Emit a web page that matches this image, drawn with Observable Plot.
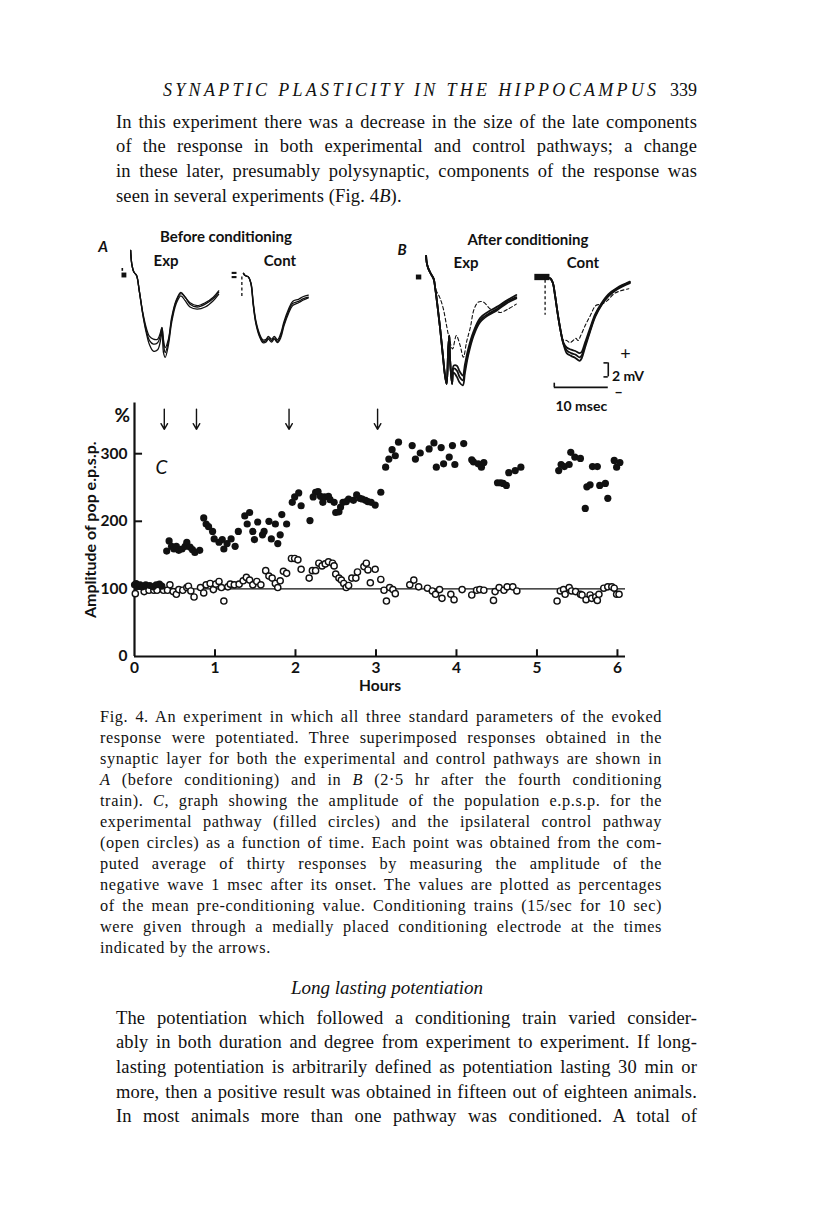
<!DOCTYPE html>
<html><head><meta charset="utf-8">
<script src="https://cdn.jsdelivr.net/npm/d3@7"></script>
<script src="https://cdn.jsdelivr.net/npm/@observablehq/plot@0.6"></script>
<style>
html,body{margin:0;padding:0;background:#fff;}
body{width:816px;height:1215px;position:relative;overflow:hidden;font-family:"Liberation Serif","Times New Roman",serif;color:#111;}
.abs{position:absolute;}
.j{text-align:justify;text-align-last:justify;}
.body{font-size:18.5px;line-height:24.7px;letter-spacing:0.15px;width:581px;left:116px;}
.cap{font-size:16.3px;line-height:21px;letter-spacing:0.6px;width:562px;left:100px;top:705.5px;}
.lab{position:absolute;font-family:Lato,"DejaVu Sans",sans-serif;font-weight:bold;font-size:15px;transform:translate(-50%,-50%);white-space:nowrap;color:#111;}
svg{overflow:visible;}
</style>
</head><body>
<div class="abs" style="left:163px;top:78px;font-size:18px;line-height:24px;font-style:italic;letter-spacing:3.3px;white-space:nowrap;">SYNAPTIC PLASTICITY IN THE HIPPOCAMPUS</div>
<div class="abs" style="left:660px;width:37px;text-align:right;top:78px;font-size:18px;line-height:24px;">339</div>

<div class="abs body" style="top:109.6px;">
<div class="j">In this experiment there was a decrease in the size of the late components</div>
<div class="j">of the response in both experimental and control pathways; a change</div>
<div class="j">in these later, presumably polysynaptic, components of the response was</div>
<div>seen in several experiments (Fig. 4<i>B</i>).</div>
</div>

<div class="lab" style="left:103px;top:246px;font-style:italic;font-size:15px;">A</div>
<div class="lab" style="left:226px;top:236px;">Before conditioning</div>
<div class="lab" style="left:166px;top:260px;">Exp</div>
<div class="lab" style="left:280px;top:260px;">Cont</div>
<div class="lab" style="left:402px;top:249px;font-style:italic;font-size:15px;">B</div>
<div class="lab" style="left:528px;top:239px;">After conditioning</div>
<div class="lab" style="left:466px;top:262px;">Exp</div>
<div class="lab" style="left:583px;top:262px;">Cont</div>

<div class="abs cap">
<div class="j">Fig. 4. An experiment in which all three standard parameters of the evoked</div>
<div class="j">response were potentiated. Three superimposed responses obtained in the</div>
<div class="j">synaptic layer for both the experimental and control pathways are shown in</div>
<div class="j"><i>A</i> (before conditioning) and in <i>B</i> (2·5 hr after the fourth conditioning</div>
<div class="j">train). <i>C</i>, graph showing the amplitude of the population e.p.s.p. for the</div>
<div class="j">experimental pathway (filled circles) and the ipsilateral control pathway</div>
<div class="j">(open circles) as a function of time. Each point was obtained from the com-</div>
<div class="j">puted average of thirty responses by measuring the amplitude of the</div>
<div class="j">negative wave 1 msec after its onset. The values are plotted as percentages</div>
<div class="j">of the mean pre-conditioning value. Conditioning trains (15/sec for 10 sec)</div>
<div class="j">were given through a medially placed conditioning electrode at the times</div>
<div>indicated by the arrows.</div>
</div>

<div class="abs" style="left:187px;width:400px;text-align:center;top:976px;font-size:19px;line-height:24px;font-style:italic;">Long lasting potentiation</div>

<div class="abs body" style="top:1005.6px;">
<div class="j">The potentiation which followed a conditioning train varied consider-</div>
<div class="j">ably in both duration and degree from experiment to experiment. If long-</div>
<div class="j">lasting potentiation is arbitrarily defined as potentiation lasting 30 min or</div>
<div class="j">more, then a positive result was obtained in fifteen out of eighteen animals.</div>
<div class="j">In most animals more than one pathway was conditioned. A total of</div>
</div>

<script>
// ---------- C: scatter data ----------
const hourTicks = [0, 1, 2, 3, 4, 5, 6];
const ampTicks = [0, 100, 200, 300];
const trainTimes = [0.37, 0.77, 1.92, 3.02];   // conditioning trains (arrows)
const baselinePct = 100;

// experimental pathway (filled circles)
const expHours = [
  0.00,0.02,0.04,0.07,0.10,0.14,0.19,0.23,0.27,0.31,0.34,
  0.40,0.43,0.46,0.49,0.52,0.55,0.59,0.63,0.65,0.69,0.72,0.75,0.81,
  0.86,0.89,0.92,0.97,0.99,1.05,1.09,1.11,1.15,1.20,1.25,1.29,
  1.37,1.40,1.43,1.47,1.49,1.53,1.59,1.61,1.67,1.70,1.75,1.78,1.81,1.83,1.89,
  1.96,1.99,2.04,2.07,2.18,2.22,2.25,2.28,2.31,2.34,2.36,2.41,2.43,2.48,2.50,2.54,2.56,2.59,2.63,2.66,2.72,2.76,2.80,
  2.83,2.87,2.90,2.94,2.99,3.06,
  3.12,3.16,3.20,3.24,3.28,3.45,3.49,3.55,3.66,3.72,3.75,3.81,3.84,3.91,3.95,3.98,4.09,4.19,4.21,4.27,4.31,4.34,
  4.51,4.55,4.58,4.62,4.65,4.73,4.80,
  5.27,5.30,5.34,5.40,5.42,5.47,5.54,5.60,5.62,5.66,5.69,5.75,5.78,5.85,5.88,5.96,5.99,6.03
];
const expAmp = [
  106,108,104,106,103,106,105,103,106,107,104,
  156,171,163,159,163,157,159,163,169,162,158,154,157,
  205,196,192,185,174,169,173,159,167,174,163,185,
  208,196,213,185,173,199,180,185,200,174,196,167,180,210,196,
  228,236,242,223,201,236,243,244,237,228,236,237,232,228,213,214,221,228,229,233,231,239,234,
  233,231,229,228,224,243,
  280,292,306,297,317,312,292,301,307,316,280,309,285,295,312,284,315,291,288,285,280,287,
  257,257,256,253,272,275,280,
  275,284,281,284,302,295,293,219,251,254,281,281,253,256,234,290,280,287
];
// control pathway (open circles)
const ctrlHours = [
  0.01,0.12,0.18,0.24,0.28,0.36,0.41,0.44,0.48,0.52,0.55,0.60,0.65,0.67,0.70,0.74,0.82,0.86,0.89,0.94,
  0.98,1.01,1.05,1.08,1.11,1.16,1.19,1.24,1.30,1.35,1.39,1.43,1.47,1.52,1.57,1.63,1.67,1.71,1.75,1.78,
  1.81,1.85,1.89,1.95,1.99,2.03,2.07,2.17,2.21,2.25,2.29,2.33,2.37,2.41,2.46,2.48,2.50,2.54,2.57,2.60,
  2.63,2.66,2.70,2.75,2.77,
  2.85,2.88,2.90,2.93,2.99,3.06,3.10,3.13,3.17,3.21,3.24,3.42,3.47,3.53,3.64,3.70,3.74,3.79,3.82,3.93,
  3.97,4.07,4.19,4.25,4.29,4.34,4.46,4.48,4.53,4.59,4.63,4.70,4.75,5.25,5.29,5.33,5.35,5.40,5.43,5.48,
  5.54,5.56,5.61,5.66,5.68,5.73,5.75,5.77,5.83,5.88,5.93,5.96,5.99,6.02
];
const ctrlAmp = [
  93,96,98,98,98,98,98,106,96,92,99,98,102,104,97,88,102,94,106,108,
  99,107,111,102,82,103,107,106,107,112,117,113,106,111,106,127,119,116,108,102,
  112,126,123,145,145,143,129,116,127,127,138,134,137,140,138,134,122,116,113,108,
  102,105,116,116,125,
  133,138,128,109,129,114,98,82,102,99,93,106,113,103,101,97,92,99,86,92,
  84,99,91,98,99,98,83,96,102,98,103,103,97,82,97,99,92,102,97,96,
  92,91,84,91,86,88,83,92,101,103,103,101,92,92
];

// ---------- A / B: evoked response traces (msec, mV) ----------
const aExpTime = [0.1,0.3,0.7,1.2,1.7,2.4,3.0,3.6,4.3,5.1,5.6,5.9,6.2,6.5,7.1,7.7,8.5,9.4,10.2,11.1,12.4,13.9,15.4,16.4];
const aExpTraces = [
  [3.6,1.7,0.5,0,-2.2,-5.5,-7.5,-8.7,-9.1,-9.1,-8.2,-7.4,-9.3,-10.3,-9.1,-6.0,-3.6,-2.4,-3.1,-3.9,-4.3,-3.9,-3.1,-2.2],
  [3.6,1.7,0.5,0,-2.2,-5.7,-7.9,-9.3,-9.8,-9.6,-8.6,-7.5,-9.8,-11.0,-9.4,-6.3,-3.8,-2.6,-3.1,-4.1,-4.5,-4.1,-3.3,-2.4],
  [3.6,1.7,0.5,0,-2.2,-5.8,-8.2,-9.9,-10.8,-10.6,-9.4,-7.9,-11.1,-11.7,-9.9,-6.7,-4.1,-2.9,-3.6,-4.5,-4.8,-4.5,-3.6,-2.7]
];
const aContTime = [-0.3,0,0.6,1.1,1.5,2.0,2.7,3.3,3.9,4.3,4.9,5.4,6.0,6.6,7.2,8.0,8.8,9.9,10.8,11.7];
const aContTraces = [
  [0.3,0,-0.2,-1.2,-4.0,-6.7,-8.6,-9.4,-9.3,-8.9,-9.3,-8.9,-9.4,-8.6,-6.9,-5.2,-4.0,-3.7,-3.3,-3.1],
  [0.3,0,-0.2,-1.3,-4.2,-6.9,-8.8,-9.6,-9.5,-9.1,-9.5,-9.1,-9.6,-8.9,-7.2,-5.5,-4.3,-3.9,-3.5,-3.2],
  [0.3,0,-0.2,-1.1,-3.8,-6.5,-8.4,-9.2,-9.1,-8.7,-9.1,-8.7,-9.2,-8.3,-6.6,-4.9,-3.7,-3.4,-3.0,-2.8]
];
const bExpTime = [0,0.1,0.4,0.9,1.4,1.7,2.1,2.6,3.1,3.5,3.8,4.1,4.3,4.4,4.8,5.1,5.7,6.2,6.8,7.2,7.8,8.8,10.0,11.5,13.1,14.9,16.7];
const bExpTraces = [
  [3.1,2.2,1.3,0.5,-0.2,-1.6,-4.0,-7.3,-11.1,-14.0,-15.2,-10.2,-8.3,-11.1,-15.2,-13.0,-13.3,-14.2,-14.7,-13.0,-10.7,-8.0,-6.1,-5.2,-4.5,-3.5,-2.8],
  [3.1,2.2,1.3,0.5,-0.2,-1.6,-4.0,-7.3,-11.1,-14.0,-15.2,-10.2,-8.3,-11.1,-15.2,-13.6,-14.2,-15.0,-15.4,-13.6,-11.1,-8.3,-6.4,-5.4,-4.7,-3.7,-3.0],
  [3.1,2.2,1.3,0.5,-0.2,-1.6,-4.0,-7.3,-11.1,-14.0,-15.2,-10.2,-8.3,-11.1,-15.2,-12.6,-12.6,-13.4,-14.0,-12.4,-10.2,-7.7,-5.8,-4.9,-4.2,-3.3,-2.5]
];
const bExpDashTime = [0,0.1,0.4,0.9,1.4,1.7,2.5,3.2,3.8,4.3,4.9,5.6,6.3,6.9,7.5,8.2,8.9,9.7,10.6,11.9,12.8,13.7,15.2,16.7];
const bExpDash = [3.1,2.2,1.3,0.5,-0.2,-1.6,-2.8,-4.5,-6.9,-8.8,-10.2,-8.3,-9.7,-11.4,-9.2,-7.1,-4.5,-3.5,-3.5,-4.5,-4.7,-5.0,-4.5,-3.8];
const bContTime = [0,0.9,1.4,1.85,2.3,2.8,3.4,4.0,4.8,5.6,6.4,6.8,7.4,8.3,9.3,10.5,11.7,13.3,15.7];
const bContTraces = [
  [-0.1,-0.1,-0.7,-2.6,-5.0,-7.3,-9.5,-10.4,-10.8,-11.0,-11.4,-11.1,-9.7,-7.6,-5.4,-3.8,-2.6,-1.6,-0.7],
  [-0.1,-0.1,-0.7,-2.6,-5.0,-7.3,-9.5,-10.8,-11.2,-11.5,-11.9,-11.5,-10.0,-7.8,-5.6,-3.9,-2.7,-1.7,-0.8],
  [-0.1,-0.1,-0.7,-2.6,-5.0,-7.3,-9.3,-10.0,-10.3,-10.5,-10.8,-10.6,-9.3,-7.3,-5.2,-3.6,-2.4,-1.5,-0.6]
];
const bContDashTime = [0,0.9,1.4,1.85,2.3,2.8,3.3,4.0,4.6,5.2,5.7,6.1,6.6,7.4,8.4,9.4,10.5,11.5,12.8,14.0,15.5];
const bContDash = [0,0,-0.7,-2.6,-5.0,-7.4,-8.9,-9.0,-9.3,-9.0,-8.7,-9.0,-8.3,-6.9,-5.4,-4.0,-3.8,-3.3,-2.3,-1.9,-1.6];

// stimulus artifact marks (msec, mV)
const aExpArtifact = [{t1:-1.5,t2:-0.6,v1:-0.35,v2:0.35},{t1:-1.5,t2:-1.2,v1:0.6,v2:1.0}];
const aContArtifact = [{t1:-2.4,t2:-1.5,v1:0.15,v2:0.45},{t1:-2.4,t2:-1.5,v1:-0.45,v2:-0.15}];
const aContArtifactDash = [{t:-0.6,v1:-0.2,v2:-3.1}];
const bExpArtifact = [{t1:-1.8,t2:-0.8,v1:-0.35,v2:0.35}];
const bContArtifact = [{t1:-1.9,t2:0.9,v1:-0.45,v2:0.45}];
const bContArtifactDash = [{t:0,v1:-0.4,v2:-5.4}];

// calibration
const calMsec = 10, calMV = 2;

// ---------- helpers ----------
function place(node, left, top) {
  const d = document.createElement("div");
  d.style.position = "absolute";
  d.style.left = left + "px";
  d.style.top = top + "px";
  d.appendChild(node);
  document.body.appendChild(d);
}
const rowsOf = (time, traces) => traces.flatMap((vs, k) => vs.map((v, i) => ({t: time[i], v, k})));

const T_DOMAIN = [-4, 22], V_DOMAIN = [-20, 5];
const PX_MS = 5.4, PX_MV = 7;
const ink = "#111";
function panel({time, traces, width = 1.3, dashTime, dash, blocks = [], dashes = [], extra = []}) {
  const marks = [
    Plot.rect(blocks, {x1: "t1", x2: "t2", y1: "v1", y2: "v2", fill: ink}),
    Plot.ruleX(dashes, {x: "t", y1: "v1", y2: "v2", stroke: ink, strokeWidth: 1.3, strokeDasharray: "3,2.5"}),
    Plot.line(rowsOf(time, traces), {x: "t", y: "v", z: "k", stroke: ink, strokeWidth: width, curve: "catmull-rom"})
  ];
  if (dash) marks.push(Plot.line(dashTime.map((t, i) => ({t, v: dash[i]})), {x: "t", y: "v", stroke: ink, strokeWidth: 1.1, strokeDasharray: "3.5,2.5", curve: "catmull-rom"}));
  return Plot.plot({
    width: (T_DOMAIN[1] - T_DOMAIN[0]) * PX_MS,
    height: (V_DOMAIN[1] - V_DOMAIN[0]) * PX_MV,
    margin: 0,
    x: {domain: T_DOMAIN, axis: null},
    y: {domain: V_DOMAIN, axis: null},
    style: {background: "transparent", overflow: "visible", fontFamily: "Lato, 'DejaVu Sans', sans-serif", fontWeight: "bold", fontSize: "14px", color: ink},
    marks: [...marks, ...extra]
  });
}

// A: before conditioning
place(panel({time: aExpTime, traces: aExpTraces, blocks: aExpArtifact}), 108.4, 240);
place(panel({time: aContTime, traces: aContTraces, blocks: aContArtifact, dashes: aContArtifactDash}), 223.4, 240);
// B: after conditioning
place(panel({time: bExpTime, traces: bExpTraces, width: 1.8, dashTime: bExpDashTime, dash: bExpDash, blocks: bExpArtifact}), 404.4, 242);
const barT0 = 1.7, barV0 = -15.7, barVTop = -12.2;
place(panel({
  time: bContTime, traces: bContTraces, width: 1.8, dashTime: bContDashTime, dash: bContDash,
  blocks: bContArtifact, dashes: bContArtifactDash,
  extra: [
    Plot.ruleY([barV0], {x1: barT0, x2: barT0 + calMsec, stroke: ink, strokeWidth: 1.6}),
    Plot.ruleX([barT0], {y1: barV0, y2: barV0 + 0.6, stroke: ink, strokeWidth: 1.6}),
    Plot.ruleX([barT0 + calMsec], {y1: barVTop, y2: barVTop - calMV, stroke: ink, strokeWidth: 1.6}),
    Plot.ruleY([barVTop, barVTop - calMV], {x1: barT0 + calMsec - 0.8, x2: barT0 + calMsec, stroke: ink, strokeWidth: 1.6}),
    Plot.text(["+"], {x: 14.9, y: -11.0, text: d => d, fontSize: 18, fontWeight: "normal"}),
    Plot.text([`${calMV} mV`], {x: 12.4, y: -14.1, text: d => d, textAnchor: "start"}),
    Plot.text(["\u2013"], {x: 13.6, y: -16.4, text: d => d, fontSize: 15}),
    Plot.text([`${calMsec} msec`], {x: barT0 + calMsec / 2, y: -18.4, text: d => d})
  ]
}), 523.4, 242);

// C: amplitude vs time
const expData = expHours.map((h, i) => ({h, a: expAmp[i]}));
const ctrlData = ctrlHours.map((h, i) => ({h, a: ctrlAmp[i]}));
const xMax = 6.1, yMax = 375;
const chart = Plot.plot({
  width: 700, height: 320,
  marginLeft: 134, marginRight: 75, marginTop: 12.5, marginBottom: 54,
  x: {domain: [0, xMax], axis: null},
  y: {domain: [0, yMax], axis: null},
  style: {background: "transparent", overflow: "visible", fontFamily: "Lato, 'DejaVu Sans', sans-serif", fontWeight: "bold", fontSize: "15.5px", color: ink},
  marks: [
    Plot.ruleY([baselinePct], {x1: 0, x2: xMax, stroke: ink, strokeWidth: 1.4}),
    Plot.ruleX([0], {y1: 0, y2: yMax, stroke: ink, strokeWidth: 2.2}),
    Plot.ruleY([0], {x1: 0, x2: xMax, stroke: ink, strokeWidth: 2.2}),
    Plot.ruleY(ampTicks.filter(d => d > 0), {x1: 0, x2: 0.1, stroke: ink, strokeWidth: 2}),
    Plot.ruleX(hourTicks.filter(d => d > 0), {y1: 0, y2: 10, stroke: ink, strokeWidth: 2}),
    Plot.text(ampTicks, {x: 0, y: d => d, text: d => String(d), textAnchor: "end", dx: -7}),
    Plot.text(hourTicks, {x: d => d, y: 0, text: d => String(d), dy: 12}),
    Plot.text(["Hours"], {frameAnchor: "bottom", dy: 34, text: d => d}),
    Plot.text(["Amplitude of pop e.p.s.p."], {frameAnchor: "left", textAnchor: "middle", dx: -44, rotate: -90, text: d => d, fontSize: 16}),
    Plot.text(["%"], {frameAnchor: "top-left", dx: -20, dy: 5, text: d => d, fontSize: 19}),
    Plot.text(["C"], {frameAnchor: "top-left", dx: 21, dy: 57, text: d => d, fontSize: 19, fontStyle: "italic", fontWeight: "normal"}),
    Plot.arrow(trainTimes, {x1: d => d, x2: d => d, y1: 366, y2: 336, stroke: ink, strokeWidth: 1.4, headLength: 7}),
    Plot.dot(ctrlData, {x: "h", y: "a", r: 3.1, stroke: ink, fill: "white", strokeWidth: 1.4}),
    Plot.dot(expData, {x: "h", y: "a", r: 3.6, fill: ink})
  ]
});
place(chart, 0, 390);
</script>
</body></html>
